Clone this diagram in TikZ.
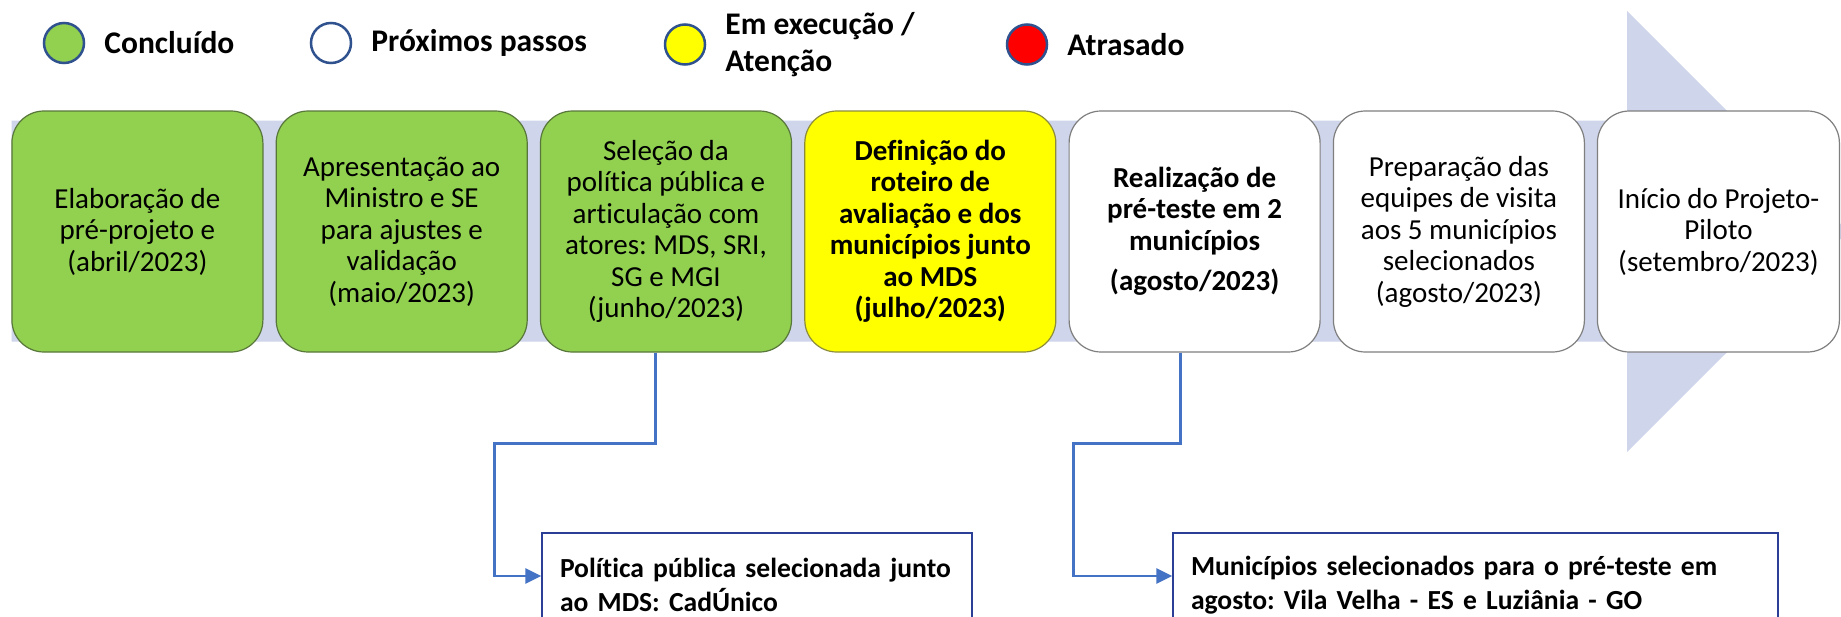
\documentclass[tikz,border=0pt]{standalone}
\usepackage{fontspec}
\setmainfont{Carlito}[Ligatures=NoCommon]
\frenchspacing
\usetikzlibrary{arrows.meta,positioning,shapes.geometric}
\definecolor{bandgray}{HTML}{CFD5EA}
\definecolor{stggreen}{HTML}{92D050}
\definecolor{stgyellow}{HTML}{FFFF00}
\definecolor{greenline}{HTML}{58773A}
\definecolor{yellowline}{HTML}{8C8C3C}
\definecolor{stgline}{HTML}{7F7F7F}
\definecolor{lgdline}{HTML}{2F528F}
\definecolor{linkblue}{HTML}{4472C4}
\definecolor{noteline}{HTML}{2B3F96}

\begin{document}
\begin{tikzpicture}[x=1pt,y=-1pt,node distance=264.3pt]
        \tikzstyle{stg} = [rectangle,rounded corners=32pt,draw=stgline,line width=1.2pt,minimum width=251pt,minimum height=241pt,align=center,font=\fontsize{29}{31.5}\selectfont]
        \tikzstyle{done} = [stg,fill=stggreen,draw=greenline]
        \tikzstyle{now} = [stg,fill=stgyellow,draw=yellowline,font=\fontsize{29}{31.5}\selectfont\bfseries]
        \tikzstyle{todo} = [stg,fill=white]
        \tikzstyle{lgd} = [circle,draw=lgdline,line width=2.5pt,minimum size=40pt,inner sep=0pt]
        \tikzstyle{lgdtxt} = [inner sep=0pt,align=left,font=\fontsize{31.5}{36.7}\selectfont\bfseries]
        \tikzstyle{note} = [rectangle,draw=noteline,line width=1.3pt,fill=white,align=left,inner xsep=18pt,minimum height=104pt,font=\fontsize{27.6}{33.5}\selectfont\bfseries]
        \tikzstyle{lnk} = [draw=linkblue,line width=2.6pt,-{Triangle[length=16pt,width=15pt]}]

        \path[use as bounding box,fill=white] (0,0) rectangle (1841,616);

        % legend
        \node[lgd,fill=stggreen] (lg1) at (64,43) {};
        \node[lgdtxt,right=19pt of lg1] (lt1) {Concluído};
        \node[lgd,fill=white] (lg2) at (331,43) {};
        \node[lgdtxt,right=19pt of lg2] (lt2) {Próximos passos};
        \node[lgd,fill=stgyellow] (lg3) at (685,44.5) {};
        \node[lgdtxt,right=19pt of lg3] (lt3) {Em execução /\\Atenção};
        \node[lgd,fill=red] (lg4) at (1027,44.5) {};
        \node[lgdtxt,right=19pt of lg4] (lt4) {Atrasado};

        % band with arrow head
        \fill[bandgray] (11.7,120.7) -- (1627,120.7) -- (1627,11) -- (1848,231.5)
          -- (1627,452) -- (1627,341.7) -- (11.7,341.7) -- cycle;

        % stages
        \node[done] (s1) at (137.4,231.5) {Elaboração de\\pré-projeto e\\(abril/2023)};
        \node[done,right of=s1] (s2) {Apresentação ao\\Ministro e SE\\para ajustes e\\validação\\(maio/2023)};
        \node[done,right of=s2] (s3) {Seleção da\\política pública e\\articulação com\\atores: MDS, SRI,\\SG e MGI\\(junho/2023)};
        \node[now,right of=s3] (s4) {Definição do\\roteiro de\\avaliação e dos\\municípios junto\\ao MDS\\(julho/2023)};
        \node[todo,right of=s4,font=\fontsize{29}{31.5}\selectfont\bfseries] (s5) {Realização de\\pré-teste em 2\\municípios\\[9pt](agosto/2023)};
        \node[todo,right of=s5] (s6) {Preparação das\\equipes de visita\\aos 5 municípios\\selecionados\\(agosto/2023)};
        \node[todo,right of=s6,node distance=259.5pt,minimum width=242pt] (s7) {Início do Projeto-\\Piloto\\(setembro/2023)};

        % notes below
        \node[note,text width=394pt] (pol) at (757,585) {Política pública selecionada junto\\ao MDS: CadÚnico};
        \node[note,text width=569pt] (mun) at (1475.5,585) {Municípios selecionados para o pré-teste em\\agosto: Vila Velha - ES e Luziânia - GO};

        % links to the notes
        \coordinate (k1) at (494.3,443.3);
        \coordinate (k2) at (1073.3,443.3);
        \draw[lnk] ([xshift=-10.7pt]s3.south) |- (k1) |- ([yshift=9pt]pol.west);
        \draw[lnk] ([xshift=-14.2pt]s5.south) |- (k2) |- ([yshift=9pt]mun.west);
\end{tikzpicture}
\end{document}
